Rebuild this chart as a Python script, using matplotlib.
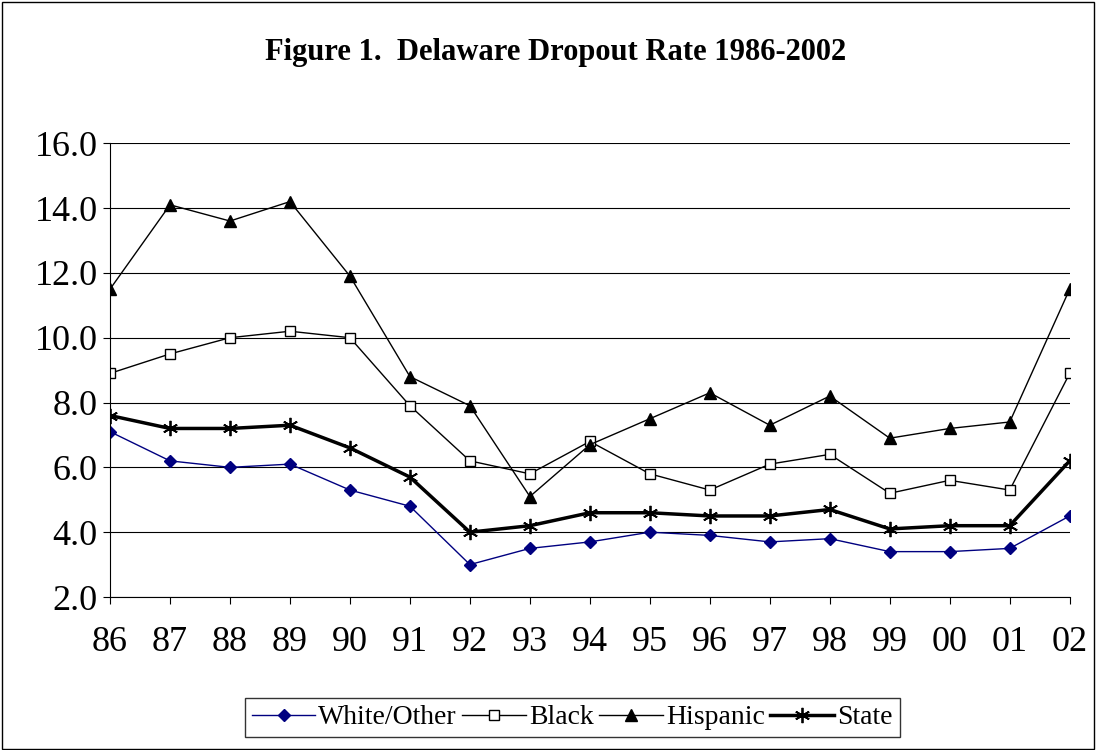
import matplotlib
matplotlib.use("Agg")
import matplotlib.pyplot as plt
from matplotlib.patches import Rectangle

years = ["86", "87", "88", "89", "90", "91", "92", "93", "94", "95", "96", "97", "98", "99", "00", "01", "02"]
white = [7.1, 6.2, 6.0, 6.1, 5.3, 4.8, 3.0, 3.5, 3.7, 4.0, 3.9, 3.7, 3.8, 3.4, 3.4, 3.5, 4.5]
black = [8.9, 9.5, 10.0, 10.2, 10.0, 7.9, 6.2, 5.8, 6.8, 5.8, 5.3, 6.1, 6.4, 5.2, 5.6, 5.3, 8.9]
hispanic = [11.5, 14.1, 13.6, 14.2, 11.9, 8.8, 7.9, 5.1, 6.7, 7.5, 8.3, 7.3, 8.2, 6.9, 7.2, 7.4, 11.5]
state = [7.6, 7.2, 7.2, 7.3, 6.6, 5.7, 4.0, 4.2, 4.6, 4.6, 4.5, 4.5, 4.7, 4.1, 4.2, 4.2, 6.2]

plt.rcParams["font.family"] = ["Liberation Serif", "DejaVu Serif"]
fig = plt.figure(figsize=(10.96, 7.5), dpi=100)
fig.patches.append(Rectangle((0.002, 0.002), 0.996, 0.996, transform=fig.transFigure,
                             fill=False, edgecolor="black", linewidth=1))
ax = fig.add_axes([0.1004, 0.204, 0.8756, 0.605])
x = range(len(years))
ax.plot(x, white, color="#000080", marker="D", markersize=6, linewidth=1, label="White/Other")
ax.plot(x, black, color="black", marker="s", markersize=7, markerfacecolor="white", linewidth=1, label="Black")
ax.plot(x, hispanic, color="black", marker="^", markersize=8, linewidth=1, label="Hispanic")
ax.plot(x, state, color="black", marker=(6, 2, 0), markersize=11, markeredgewidth=1.3, linewidth=2.5, label="State")

ax.set_xlim(0, len(years) - 1)
ax.set_ylim(2, 16)
ax.set_yticks([2, 4, 6, 8, 10, 12, 14, 16])
ax.set_yticklabels([f"{v:.1f}" for v in range(2, 17, 2)])
ax.set_xticks(list(x))
ax.set_xticklabels(years)
ax.tick_params(labelsize=26, direction="out", length=5)
ax.tick_params(axis="x", pad=16)
ax.tick_params(axis="y", pad=4)
ax.grid(axis="y", color="black", linewidth=0.8)
for s in ["top", "right"]:
    ax.spines[s].set_visible(False)

fig.text(0.507, 0.93, "Figure 1.  Delaware Dropout Rate 1986-2002", ha="center", va="center",
         fontsize=22, fontweight="bold")
leg = fig.legend(loc="center", bbox_to_anchor=(0.522, 0.043), ncol=4, fontsize=20,
                 frameon=True, fancybox=False, edgecolor="black", handlelength=2.3,
                 handletextpad=0.1, columnspacing=0.2, borderpad=0.25)
fig.savefig("out.png", dpi=100)
